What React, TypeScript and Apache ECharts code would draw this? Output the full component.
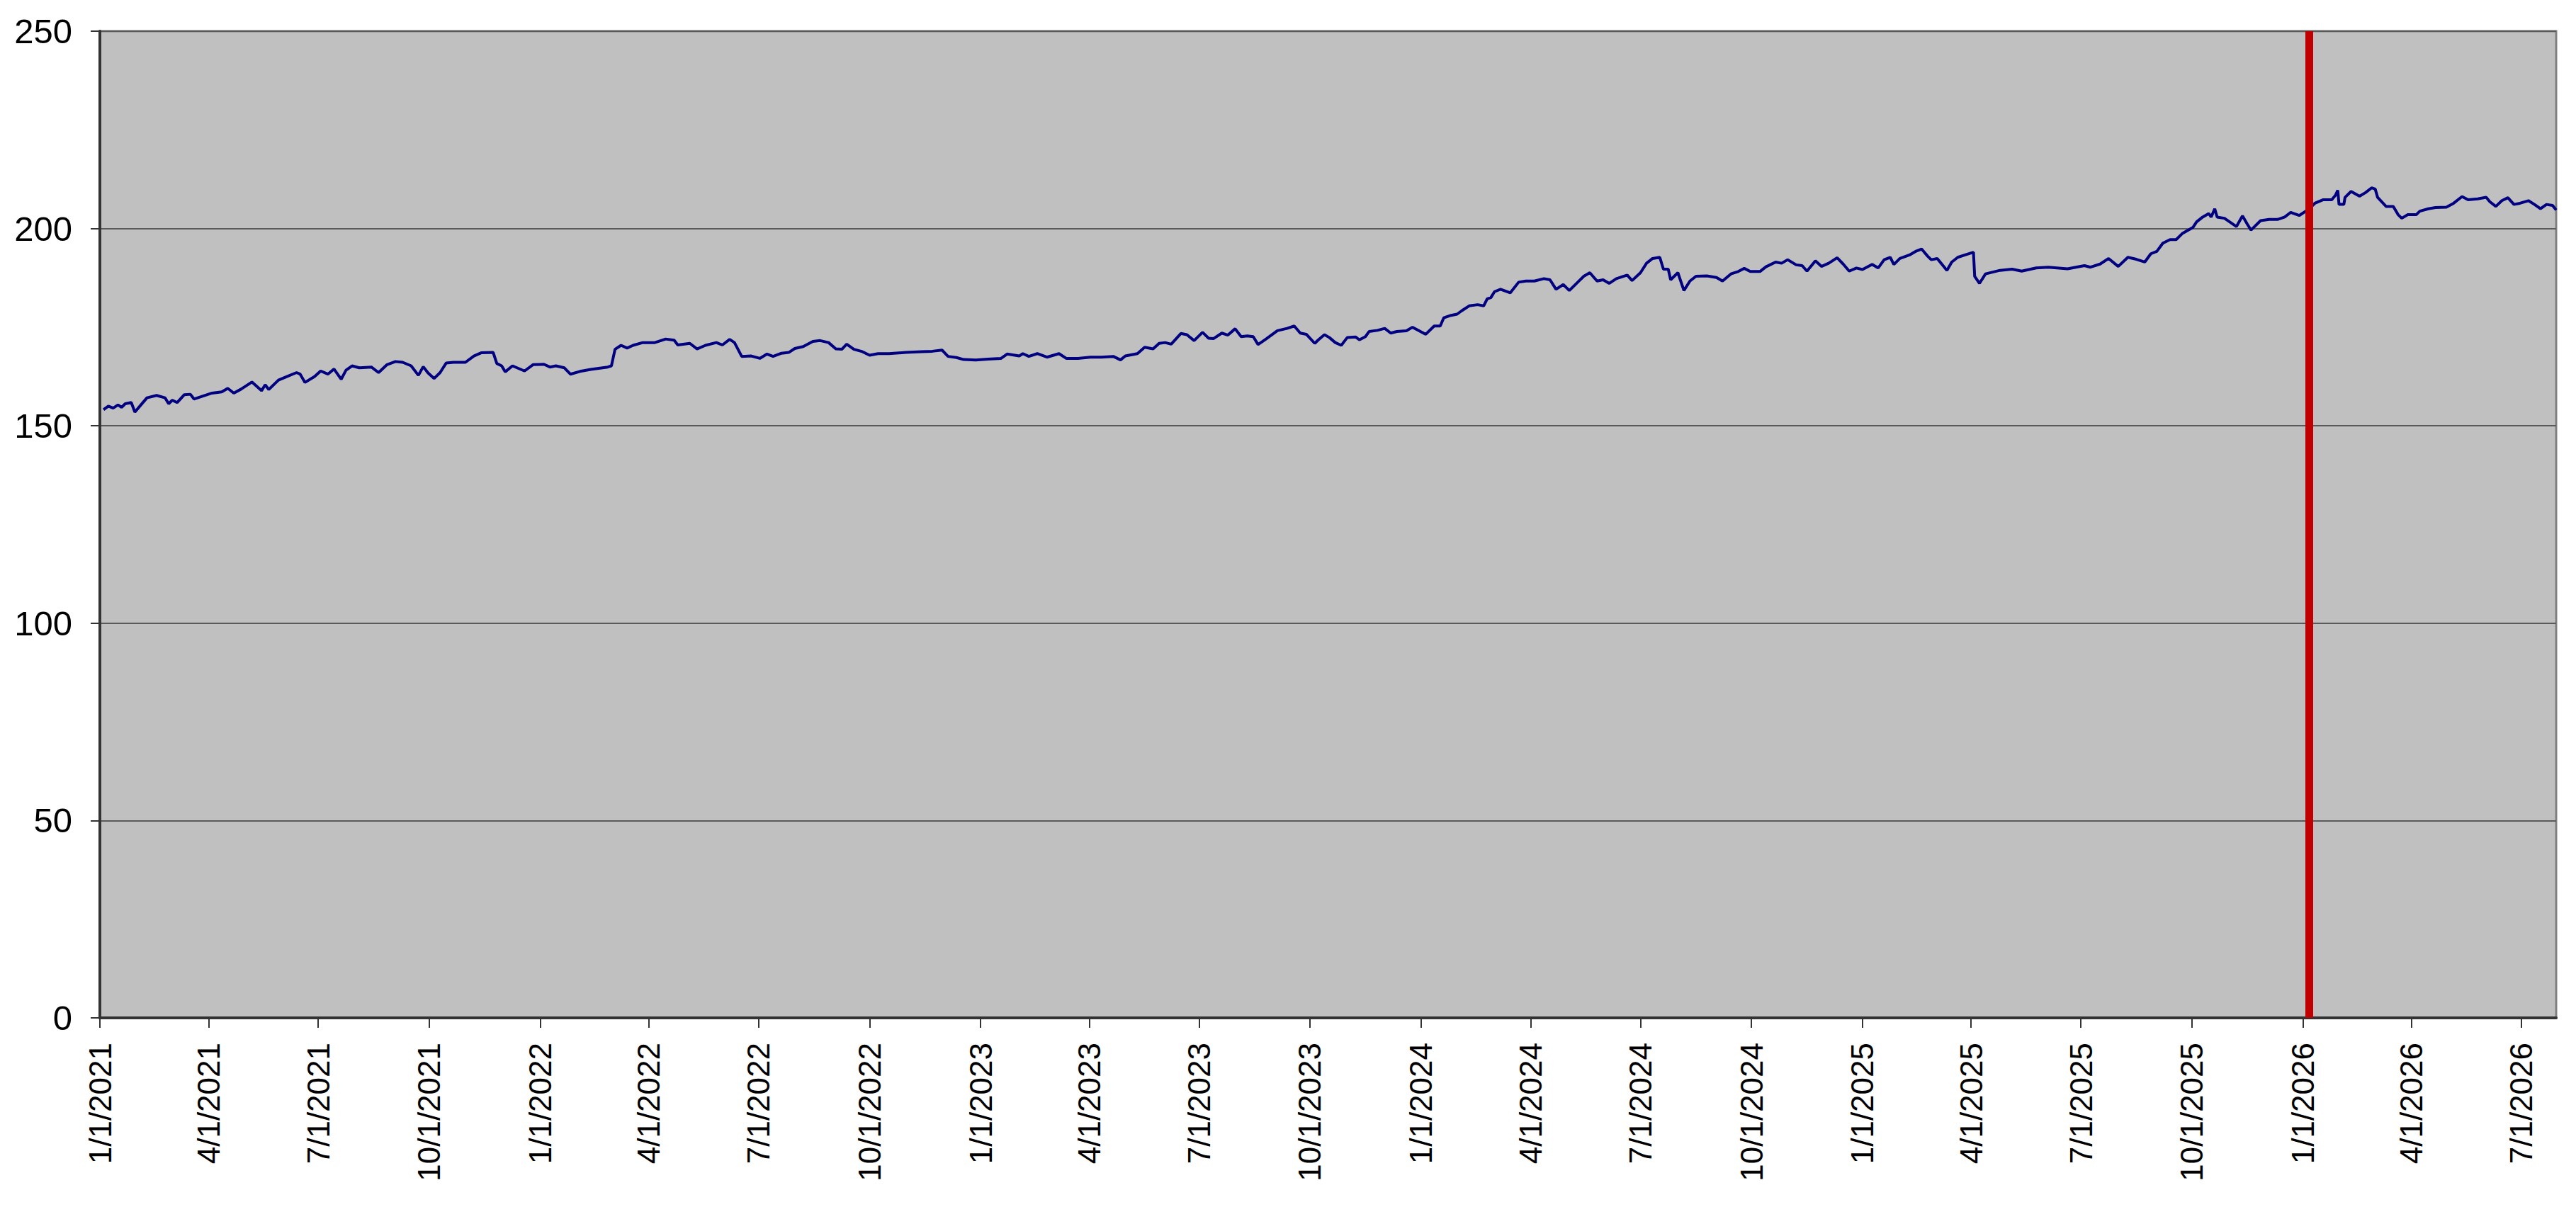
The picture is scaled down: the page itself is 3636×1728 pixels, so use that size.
import React, { useEffect, useRef } from "react";
import * as echarts from "echarts";

// Start of the x-axis (day 0) and its end, in days after the start
const START_DATE = "1/1/2021";
const END_DAY = 2036;

// Quarterly tick labels along the x-axis
const tickLabels = [
  "1/1/2021", "4/1/2021", "7/1/2021", "10/1/2021",
  "1/1/2022", "4/1/2022", "7/1/2022", "10/1/2022",
  "1/1/2023", "4/1/2023", "7/1/2023", "10/1/2023",
  "1/1/2024", "4/1/2024", "7/1/2024", "10/1/2024",
  "1/1/2025", "4/1/2025", "7/1/2025", "10/1/2025",
  "1/1/2026", "4/1/2026", "7/1/2026",
];

// Y-axis ticks
const yTicks = [0, 50, 100, 150, 200, 250];

// Date of the red vertical marker
const markerDate = "1/6/2026";

// Series: days after START_DATE and values
const dayOffsets = [
  3, 7, 11, 15, 18, 21, 26, 29, 34, 39, 47, 54, 57, 60, 64, 70, 75, 78, 85, 93,
  101, 106, 111, 117, 126, 134, 137, 140, 148, 155, 163, 166, 170, 178, 183, 189, 194, 200, 204, 209,
  215, 225, 231, 238, 245, 251, 258, 264, 268, 272, 277, 282, 287, 293, 303, 310, 316, 326, 329, 333,
  336, 342, 352, 359, 368, 373, 378, 385, 390, 398, 407, 421, 424, 427, 432, 437, 442, 450, 460, 469,
  476, 479, 489, 495, 502, 511, 516, 522, 526, 532, 540, 547, 553, 558, 565, 571, 576, 583, 591, 597,
  604, 610, 615, 619, 625, 632, 638, 645, 654, 668, 681, 690, 698, 703, 710, 716, 726, 736, 747, 752,
  762, 765, 770, 777, 785, 795, 801, 811, 821, 830, 840, 846, 850, 860, 866, 873, 878, 883, 888, 896,
  901, 907, 914, 919, 923, 930, 935, 941, 946, 951, 956, 960, 967, 976, 984, 990, 995, 1000, 1007, 1010,
  1015, 1019, 1024, 1029, 1034, 1041, 1044, 1049, 1052, 1059, 1065, 1070, 1075, 1083, 1088, 1099, 1106, 1111, 1114, 1120,
  1125, 1129, 1135, 1142, 1147, 1150, 1153, 1156, 1161, 1169, 1176, 1182, 1189, 1197, 1202, 1207, 1213, 1218, 1225, 1230,
  1235, 1241, 1246, 1251, 1257, 1266, 1270, 1277, 1282, 1287, 1293, 1296, 1300, 1302, 1308, 1313, 1318, 1323, 1332, 1340,
  1345, 1352, 1358, 1363, 1368, 1376, 1381, 1389, 1394, 1399, 1406, 1411, 1415, 1422, 1427, 1433, 1440, 1445, 1450, 1456,
  1461, 1469, 1474, 1479, 1484, 1487, 1492, 1500, 1505, 1510, 1515, 1518, 1523, 1531, 1535, 1540, 1546, 1553, 1554, 1558,
  1563, 1575, 1585, 1593, 1605, 1615, 1631, 1645, 1650, 1658, 1665, 1673, 1681, 1688, 1695, 1700, 1705, 1710, 1716, 1721,
  1726, 1735, 1738, 1743, 1748, 1750, 1753, 1755, 1761, 1771, 1776, 1780, 1783, 1791, 1798, 1805, 1811, 1816, 1823, 1830,
  1836, 1843, 1850, 1853, 1855, 1856, 1860, 1861, 1866, 1873, 1878, 1883, 1886, 1888, 1895, 1901, 1905, 1908, 1913, 1920,
  1923, 1930, 1936, 1945, 1951, 1958, 1963, 1971, 1978, 1981, 1986, 1991, 1996, 2001, 2006, 2013, 2018, 2023, 2028, 2033,
  2036,
];

const values = [
  154.1, 155.0, 154.5, 155.3, 154.7, 155.6, 155.9, 153.5, 155.3, 157.1, 157.7, 157.1, 155.6, 156.5, 155.9, 157.9, 158.0, 156.8, 157.5, 158.3,
  158.6, 159.5, 158.3, 159.3, 161.1, 158.9, 160.4, 159.2, 161.6, 162.5, 163.5, 163.1, 161.0, 162.5, 163.9, 163.1, 164.4, 161.8, 164.1, 165.2,
  164.7, 164.9, 163.5, 165.5, 166.3, 166.1, 165.2, 162.8, 165.0, 163.4, 162.0, 163.5, 165.9, 166.1, 166.1, 167.7, 168.5, 168.6, 165.8, 165.2,
  163.7, 165.2, 163.9, 165.5, 165.6, 164.9, 165.2, 164.7, 163.1, 163.8, 164.3, 164.9, 165.2, 169.4, 170.4, 169.7, 170.4, 171.1, 171.1, 172.0,
  171.7, 170.5, 170.9, 169.5, 170.4, 171.1, 170.5, 171.9, 171.1, 167.6, 167.7, 167.1, 168.2, 167.6, 168.4, 168.6, 169.6, 170.1, 171.4, 171.6,
  171.1, 169.5, 169.4, 170.7, 169.4, 168.8, 167.9, 168.3, 168.3, 168.6, 168.8, 168.9, 169.2, 167.6, 167.3, 166.8, 166.7, 166.9, 167.1, 168.2,
  167.7, 168.3, 167.6, 168.3, 167.4, 168.3, 167.1, 167.1, 167.4, 167.4, 167.6, 166.7, 167.7, 168.3, 169.9, 169.5, 170.9, 171.1, 170.7, 173.4,
  173.1, 171.6, 173.7, 172.2, 172.1, 173.5, 173.0, 174.6, 172.6, 172.8, 172.6, 170.6, 172.1, 174.1, 174.7, 175.3, 173.5, 173.2, 170.9, 171.8,
  173.1, 172.4, 171.1, 170.4, 172.4, 172.5, 171.8, 172.6, 173.9, 174.2, 174.7, 173.5, 173.9, 174.1, 175.0, 173.2, 175.3, 175.3, 177.4, 178.0,
  178.3, 179.2, 180.4, 180.7, 180.4, 182.2, 182.5, 184.0, 184.6, 183.7, 186.4, 186.7, 186.7, 187.3, 187.0, 184.6, 185.8, 184.3, 186.4, 187.9,
  188.8, 186.7, 187.0, 186.1, 187.3, 188.2, 186.8, 188.8, 191.2, 192.4, 192.7, 189.7, 189.7, 187.0, 188.8, 184.3, 186.7, 187.9, 188.0, 187.6,
  186.7, 188.5, 189.1, 189.9, 189.1, 189.1, 190.3, 191.5, 191.2, 192.1, 190.8, 190.6, 189.2, 191.8, 190.4, 191.2, 192.6, 191.0, 189.2, 190.0,
  189.6, 190.9, 190.0, 192.1, 192.7, 190.9, 192.4, 193.3, 194.2, 194.8, 193.0, 192.1, 192.4, 189.4, 191.5, 192.7, 193.3, 194.0, 187.9, 186.1,
  188.5, 189.4, 189.7, 189.2, 190.0, 190.2, 189.8, 190.6, 190.2, 191.0, 192.4, 190.4, 192.7, 192.2, 191.5, 193.6, 194.2, 196.3, 197.2, 197.2,
  198.7, 200.3, 201.7, 202.9, 203.8, 202.9, 205.0, 202.9, 202.6, 200.5, 203.2, 201.1, 199.6, 202.0, 202.3, 202.3, 202.9, 204.1, 203.3, 204.7,
  206.4, 207.3, 207.3, 208.4, 209.7, 206.1, 206.1, 207.9, 209.4, 208.2, 209.1, 210.3, 210.0, 207.9, 205.6, 205.6, 203.5, 202.6, 203.5, 203.5,
  204.4, 205.0, 205.3, 205.4, 206.4, 208.1, 207.3, 207.5, 207.9, 206.8, 205.6, 207.05, 207.8, 206.1, 206.4, 207.05, 206.1, 205.0, 206.1, 205.85,
  204.7,
];

const FONT = '"Liberation Sans", Arial, Helvetica, sans-serif';
const DAY_MS = 86400000;

function parseMDY(s: string): number {
  const [m, d, y] = s.split("/").map(Number);
  return Date.UTC(y, m - 1, d);
}
const startMs = parseMDY(START_DATE);
const toDay = (s: string) => Math.round((parseMDY(s) - startMs) / DAY_MS);

const tickDays = tickLabels.map(toDay);
const labelByDay: Record<number, string> = {};
tickDays.forEach((d, i) => {
  labelByDay[d] = tickLabels[i];
});
const markerDay = toDay(markerDate);

export default function App() {
  const ref = useRef<HTMLDivElement>(null);

  useEffect(() => {
    if (!ref.current) return;
    const chart = echarts.init(ref.current, undefined, { renderer: "svg" });
    const seriesData = dayOffsets.map((d, i) => [d, values[i]]);

    chart.setOption({
      animation: false,
      backgroundColor: "#ffffff",
      grid: {
        left: 141,
        top: 44,
        right: 28,
        bottom: 291,
        show: true,
        backgroundColor: "#c0c0c0",
        borderColor: "#808080",
        borderWidth: 3,
      },
      xAxis: {
        type: "value",
        min: 0,
        max: END_DAY,
        splitLine: { show: false },
        axisLine: { show: true, onZero: false, lineStyle: { color: "#333333", width: 4 } },
        axisTick: {
          show: true,
          length: 14,
          customValues: tickDays,
          lineStyle: { color: "#333333", width: 2 },
        },
        axisLabel: {
          customValues: tickDays,
          rotate: 90,
          margin: 35,
          fontSize: 44,
          fontFamily: FONT,
          color: "#000000",
          formatter: (v: number) => labelByDay[Math.round(v)] ?? "",
        },
      },
      yAxis: {
        type: "value",
        min: yTicks[0],
        max: yTicks[yTicks.length - 1],
        interval: yTicks[1] - yTicks[0],
        splitLine: { show: true, lineStyle: { color: "#5a5a5a", width: 2 } },
        axisLine: { show: true, lineStyle: { color: "#333333", width: 4 } },
        axisTick: { show: true, length: 13, lineStyle: { color: "#333333", width: 2 } },
        axisLabel: {
          margin: 39,
          fontSize: 49,
          fontFamily: FONT,
          color: "#000000",
        },
      },
      series: [
        {
          type: "line",
          data: seriesData,
          showSymbol: false,
          symbol: "none",
          lineStyle: { color: "#000080", width: 4 },
          z: 3,
          markLine: {
            silent: true,
            symbol: ["none", "none"],
            label: { show: false },
            lineStyle: { color: "#c00000", width: 11, type: "solid" },
            data: [{ xAxis: markerDay }],
            z: 5,
          },
        },
      ],
    });

    return () => chart.dispose();
  }, []);

  return (
    <div
      ref={ref}
      style={{ position: "fixed", left: 0, top: 0, width: "100vw", height: "100vh" }}
    />
  );
}
